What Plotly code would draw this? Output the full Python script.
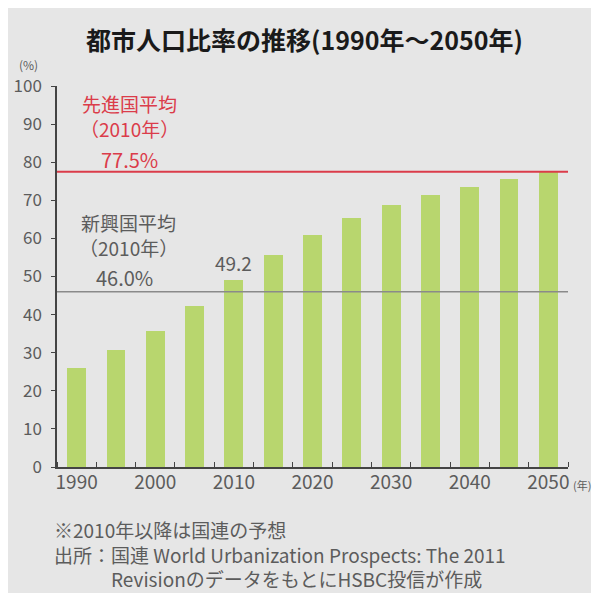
import plotly.graph_objects as go

years = [1990, 1995, 2000, 2005, 2010, 2015, 2020, 2025, 2030, 2035, 2040, 2045, 2050]
urban_ratio = [26.0, 30.6, 35.6, 42.2, 49.2, 55.6, 60.9, 65.4, 68.7, 71.4, 73.5, 75.5, 77.3]
developed_avg = 77.5
emerging_avg = 46.0
tick_years = [1990, 2000, 2010, 2020, 2030, 2040, 2050]
tick_labels = ["1990", "2000", "2010", "2020", "2030", "2040", "2050"]

FONT = "Noto Sans CJK JP"
GRAY = "#5c5c5c"
RED = "#db3c4a"

# screen geometry (page has an 8px body margin)
PL, PR, PT, PB = 57, 568, 86, 467
def px(xp):
    return (xp - PL) / (PR - PL)
def py(yp):
    return (PB - yp) / (PB - PT)

fig = go.Figure()
fig.add_trace(go.Bar(
    x=years, y=urban_ratio, width=2.4,
    marker=dict(color="#b8d66e", line=dict(width=0)),
    hoverinfo="x+y",
))

fig.add_shape(type="line", xref="paper", yref="y", x0=0, x1=1,
              y0=emerging_avg, y1=emerging_avg, line=dict(color="#8a8a8a", width=1.3), layer="above")
fig.add_shape(type="line", xref="paper", yref="y", x0=0, x1=1,
              y0=developed_avg, y1=developed_avg, line=dict(color=RED, width=2), layer="above")

# outer gray panel
fig.add_shape(type="rect", xref="paper", yref="paper",
              x0=px(8), x1=px(591), y0=py(593), y1=py(8),
              fillcolor="#e6e6e6", line=dict(width=0), layer="below")

ann = []
def a(text, x, y, size, color, xref="paper", yref="paper", xanchor="center", yanchor="middle", align="center", bold=False):
    if bold:
        text = "<b>" + text + "</b>"
    ann.append(dict(text=text, x=x, y=y, xref=xref, yref=yref, xanchor=xanchor, yanchor=yanchor,
                    align=align, showarrow=False, borderpad=0,
                    font=dict(family=FONT, size=size, color=color)))

a("先進国平均<br>（2010年）", px(129), py(115.5), 19, RED)
a("77.5%", px(129), py(159), 20, RED)
a("新興国平均<br>（2010年）", px(128), py(234.5), 19, GRAY)
a("46.0%", px(124), py(277), 20, GRAY)
a("49.2", 2010, 53.8, 19, GRAY, xref="x", yref="y")

a("都市人口比率の推移(1990年～2050年)", px(304), py(39), 25, "#1a1a1a", bold=True)
a("(%)", px(28), py(64), 12, GRAY)
a("(年)", px(572), py(485), 11, GRAY, xanchor="left")
a("※2010年以降は国連の予想<br>出所：国連 World Urbanization Prospects: The 2011<br>　　　Revisionのデータをもとに HSBC投信が作成".replace("に HSBC", "にHSBC"),
  px(53), py(554), 19, GRAY, xanchor="left", align="left")

fig.update_layout(
    width=592, height=587,
    margin=dict(l=PL - 8, r=600 - PR, t=PT - 8, b=595 - PB, autoexpand=False),
    paper_bgcolor="white", plot_bgcolor="white",
    showlegend=False,
    annotations=ann,
    font=dict(family=FONT, color=GRAY),
    bargap=0,
)
fig.update_xaxes(
    range=[1987.5, 2052.5], tickvals=tick_years, ticktext=tick_labels,
    ticks="", showgrid=False, zeroline=False, automargin=False,
    showline=True, linecolor="#444", linewidth=1.5,
    tickfont=dict(family=FONT, size=19, color=GRAY),
    ticklabelstandoff=-3,
    minor=dict(tick0=1992.5, dtick=5, ticks="inside", ticklen=5, tickcolor="#444", tickwidth=1, showgrid=False),
)
fig.update_yaxes(
    range=[0, 100], tickvals=list(range(0, 101, 10)),
    ticks="outside", ticklen=4, tickcolor="#444",
    showgrid=False, zeroline=False, automargin=False,
    showline=True, linecolor="#444", linewidth=1.5,
    tickfont=dict(family=FONT, size=17, color=GRAY),
    ticklabelstandoff=6,
)

fig.write_html("out.html")
